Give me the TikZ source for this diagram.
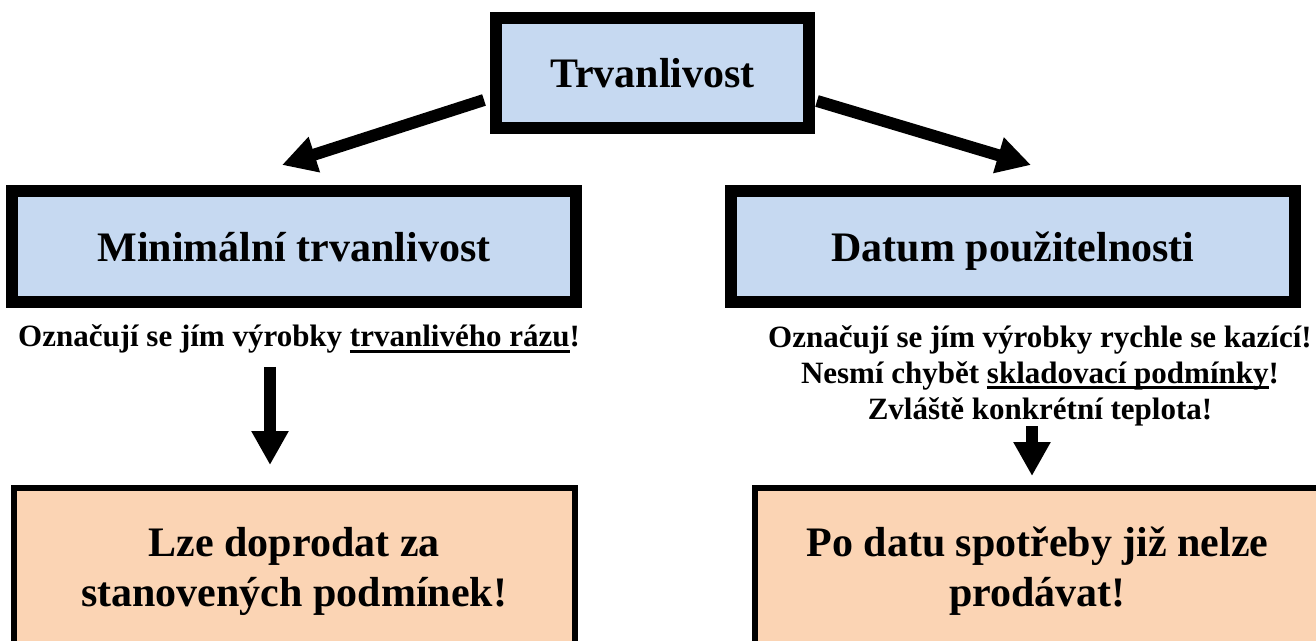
\documentclass[tikz,border=0pt]{standalone}
\usepackage{fontspec}
\setmainfont{Liberation Serif}
\usepackage{tikz}
\usetikzlibrary{arrows.meta}
\usepackage{xcolor}
\definecolor{modra}{HTML}{C6D9F1}
\definecolor{oranz}{HTML}{FBD4B4}
\newcommand{\podtrh}[1]{\setbox0\hbox{#1}\rlap{\rule[-3pt]{\wd0}{1.5pt}}\box0}

\begin{document}
\begin{tikzpicture}[x=0.5pt, y=-0.5pt,
  hlava/.style={draw, fill=modra, line width=6pt, inner sep=0pt, text depth=0pt, font=\fontsize{21}{25}\selectfont\bfseries},
  vysledek/.style={draw, fill=oranz, line width=3pt, inner sep=0pt, align=center, font=\fontsize{21}{25}\selectfont\bfseries},
  pozn/.style={inner sep=0pt, align=center, font=\fontsize{15.5}{18}\selectfont\bfseries},
  sipka/.style={line width=6pt, -{Triangle[length=17pt, width=17.5pt]}}]
\useasboundingbox (0,0) rectangle (1316,641);
\clip (0,0) rectangle (1316,641);  % spodni boxy jsou oriznute
\node[hlava, minimum width=156.5pt, minimum height=55pt] (trv) at (652.5,72.6) {Trvanlivost};
\node[hlava, minimum width=282pt, minimum height=55.5pt] (min) at (294,246.5) {Minimální trvanlivost};
\node[hlava, minimum width=282pt, minimum height=55.5pt] (dat) at (1013,246.5) {Datum použitelnosti};
\node[pozn, anchor=base] (minpozn) at (299,347) {Označují se jím výrobky \podtrh{trvanlivého rázu}!};
\node[pozn, anchor=north] (datpozn) at (1040,325) {Označují se jím výrobky rychle se kazící!\\
  Nesmí chybět \podtrh{skladovací podmínky}!\\
  Zvláště konkrétní teplota!};
\node[vysledek, minimum width=280.75pt, minimum height=83pt] (lze) at (294.25,571) {Lze doprodat za\\stanovených podmínek!};
\node[vysledek, minimum width=282.5pt, minimum height=83pt] (po) at (1037.5,571) {Po datu spotřeby již nelze\\prodávat!};
\coordinate (a1) at (484,100);  \coordinate (a2) at (282,165);
\coordinate (b1) at (817,101);  \coordinate (b2) at (1031,165);
\coordinate (c1) at (270,367);  \coordinate (c2) at (270,465);
\coordinate (d1) at (1032,426); \coordinate (d2) at (1032,476);
\draw[sipka] (a1) -- (a2);
\draw[sipka] (b1) -- (b2);
\draw[sipka] (c1) -- (c2);
\draw[sipka] (d1) -- (d2);
\end{tikzpicture}
\end{document}
